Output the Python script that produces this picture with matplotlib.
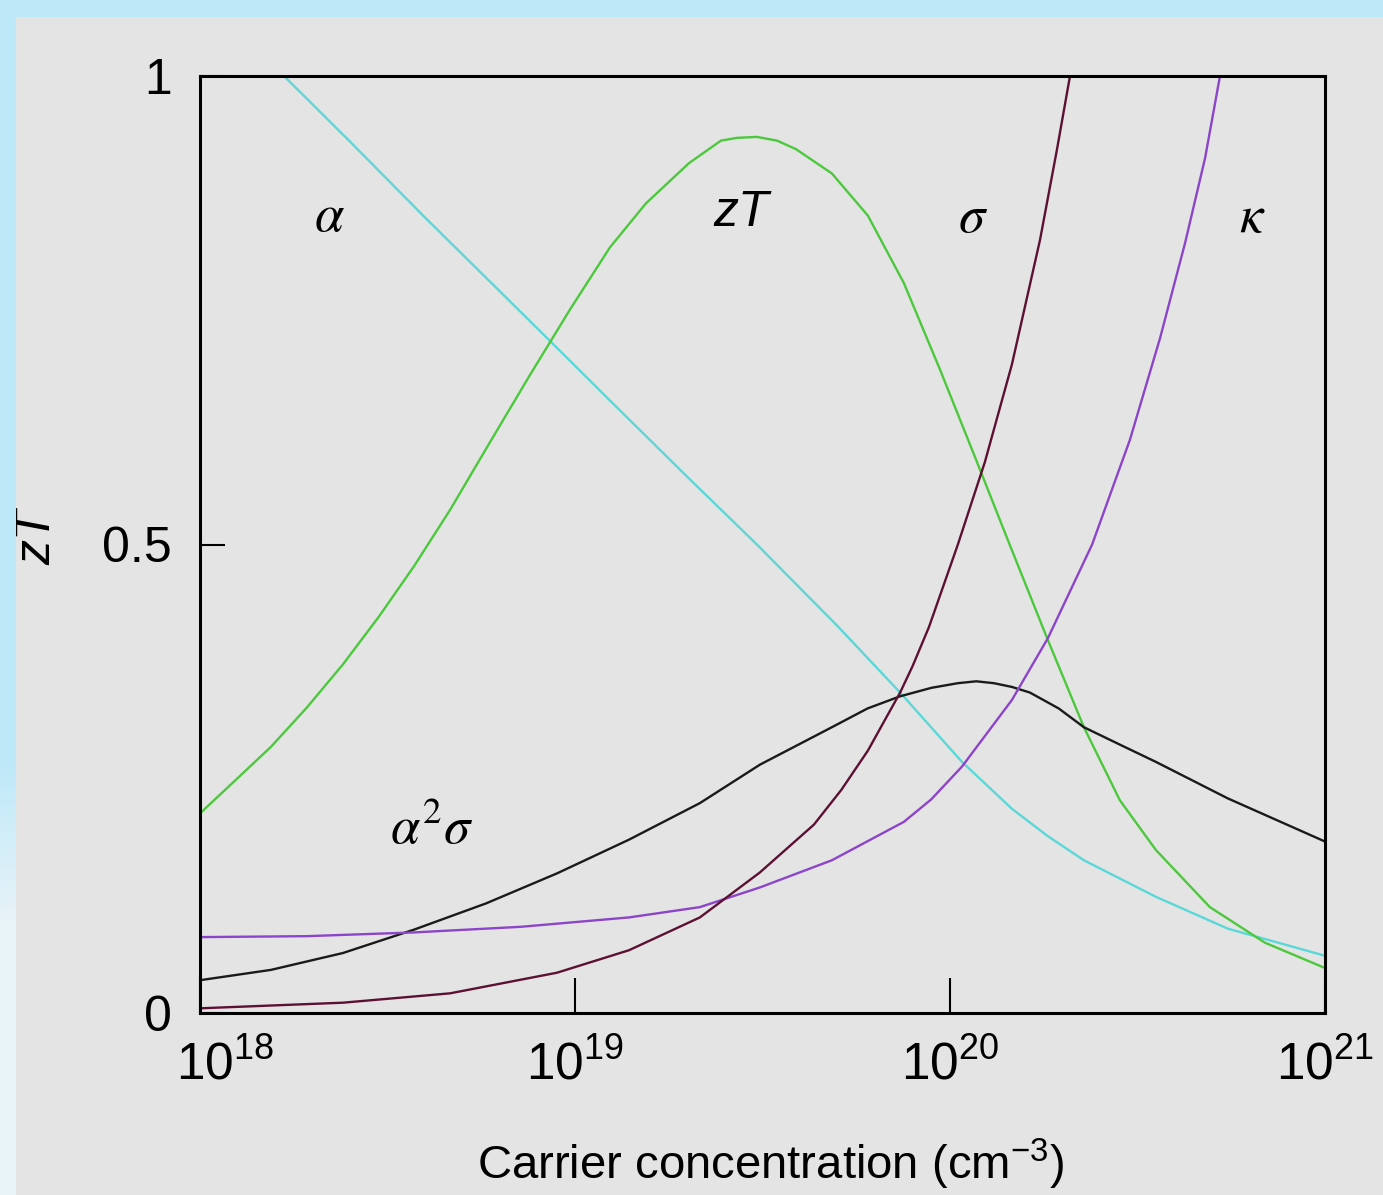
import numpy as np
import matplotlib
matplotlib.use('Agg')
import matplotlib.pyplot as plt
import matplotlib.transforms as mtransforms

plt.rcParams['font.family'] = ['Liberation Sans Narrow', 'Liberation Sans', 'DejaVu Sans']

# curves vs carrier concentration, x given as log10(n / cm^-3)
alpha_logn = [18.0, 18.224, 18.40, 18.60, 18.80, 18.939, 19.10, 19.30, 19.485, 19.70, 19.867,
              20.032, 20.165, 20.26, 20.357, 20.549, 20.741, 20.992, 21.0]
alpha_val = [1.09, 1.00, 0.930, 0.849, 0.770, 0.715, 0.651, 0.572, 0.500, 0.413, 0.342,
             0.268, 0.218, 0.189, 0.163, 0.124, 0.090, 0.062, 0.061]

zt_logn = [18.0, 18.096, 18.189, 18.285, 18.381, 18.477, 18.571, 18.667, 18.773, 18.880, 18.987,
           19.093, 19.189, 19.304, 19.389, 19.432, 19.485, 19.539, 19.589, 19.685, 19.781,
           19.877, 19.973, 20.069, 20.157, 20.261, 20.357, 20.453, 20.549, 20.693, 20.840, 21.0]
zt_val = [0.213, 0.249, 0.284, 0.326, 0.372, 0.423, 0.477, 0.537, 0.609, 0.681, 0.751,
          0.817, 0.864, 0.907, 0.931, 0.934, 0.935, 0.931, 0.922, 0.896, 0.851,
          0.779, 0.687, 0.591, 0.502, 0.398, 0.305, 0.227, 0.174, 0.113, 0.075, 0.048]

pf_logn = [18.0, 18.189, 18.381, 18.571, 18.763, 18.952, 19.144, 19.333, 19.493, 19.685, 19.78,
           19.867, 19.95, 20.021, 20.07, 20.117, 20.165, 20.213, 20.29, 20.357, 20.45, 20.549,
           20.741, 21.0]
pf_val = [0.035, 0.046, 0.064, 0.089, 0.117, 0.149, 0.185, 0.224, 0.265, 0.305, 0.325,
          0.338, 0.347, 0.352, 0.354, 0.352, 0.348, 0.342, 0.325, 0.305, 0.287, 0.268,
          0.229, 0.183]

sigma_logn = [18.0, 18.381, 18.667, 18.952, 19.144, 19.333, 19.493, 19.637, 19.71, 19.781,
              19.867, 19.9, 19.944, 20.021, 20.093, 20.165, 20.24, 20.285, 20.32, 20.34]
sigma_val = [0.005, 0.011, 0.021, 0.043, 0.067, 0.102, 0.150, 0.201, 0.238, 0.280,
             0.342, 0.370, 0.412, 0.500, 0.588, 0.692, 0.825, 0.921, 1.000, 1.05]

kappa_logn = [18.0, 18.285, 18.571, 18.856, 19.144, 19.333, 19.493, 19.685, 19.877, 19.95,
              20.032, 20.165, 20.261, 20.379, 20.48, 20.56, 20.627, 20.68, 20.72, 20.74]
kappa_val = [0.081, 0.082, 0.086, 0.092, 0.102, 0.113, 0.134, 0.163, 0.204, 0.228,
             0.263, 0.334, 0.400, 0.500, 0.612, 0.720, 0.822, 0.912, 1.000, 1.045]

# curve labels: text, log10(n), y
label_text = [r'$\alpha$', r'$\sigma$', r'$\kappa$', r'$\alpha^2\sigma$']
label_logn = [18.344, 20.061, 20.805, 18.619]
label_y = [0.850, 0.848, 0.848, 0.195]

xtick_logn = [18, 19, 20, 21]
ytick_vals = [0, 0.5, 1]
ytick_text = ['0', '0.5', '1']

bg = '#e4e4e4'
fig = plt.figure(figsize=(13.83, 11.95), dpi=100, facecolor=bg)

# light blue frame on the top and left edges
top = np.ones((17, 1383, 3)) * np.array([189, 232, 248]) / 255.
fig.figimage(top, xo=0, yo=1195 - 17, zorder=0)
rows = np.arange(1195)
t = np.clip((rows - 760) / 160., 0, 1)[:, None]
c0 = np.array([189, 232, 248]) / 255.
c1 = np.array([232, 243, 248]) / 255.
left = (c0 * (1 - t) + c1 * t)[:, None, :] * np.ones((1, 16, 1))
fig.figimage(left, xo=0, yo=0, zorder=0)

ax = fig.add_axes([200 / 1383., 1 - 1013 / 1195., 1125 / 1383., 937 / 1195.])
ax.set_facecolor(bg)

lw = 1.7
ax.plot(10 ** np.array(alpha_logn), alpha_val, color='#5ad8d8', lw=lw)
ax.plot(10 ** np.array(zt_logn), zt_val, color='#4cc83c', lw=lw)
ax.plot(10 ** np.array(pf_logn), pf_val, color='#1a1a1a', lw=lw)
ax.plot(10 ** np.array(kappa_logn), kappa_val, color='#8c44c8', lw=lw)
ax.plot(10 ** np.array(sigma_logn), sigma_val, color='#5c1034', lw=lw)

ax.set_xscale('log')
ax.set_xlim(1e18, 1e21)
ax.set_ylim(0, 1)
ax.xaxis.set_minor_locator(matplotlib.ticker.NullLocator())
ax.set_xticks([10.0 ** k for k in xtick_logn])
ax.set_xticklabels([r'$\mathregular{10^{%d}}$' % k for k in xtick_logn], fontsize=37)
ax.set_yticks(ytick_vals)
ax.set_yticklabels(ytick_text, fontsize=36)
ax.tick_params(axis='x', direction='in', length=25, width=1.5, pad=20)
ax.tick_params(axis='y', direction='in', length=18, width=1.5, pad=20)
for s in ax.spines.values():
    s.set_linewidth(2.2)

# nudge the first x label off the y label
shift = mtransforms.ScaledTranslation(0.25, 0, fig.dpi_scale_trans)
lab0 = ax.get_xticklabels()[0]
lab0.set_transform(lab0.get_transform() + shift)

for txt, lx, ly in zip(label_text, label_logn, label_y):
    ax.text(10 ** lx, ly, txt, fontsize=38, ha='center', va='center', math_fontfamily='stix')
ax.text(10 ** 19.443, 0.854, 'zT', fontsize=36, style='italic', ha='center', va='center')

ax.text(0.507, -0.178, r'Carrier concentration (cm$^{\mathregular{-3}}$)', fontsize=34,
        ha='center', va='baseline', transform=ax.transAxes)
ax.text(-0.145, 0.508, 'zT', fontsize=36, style='italic', rotation=90,
        ha='center', va='center', transform=ax.transAxes)

plt.savefig('out.png', dpi=100, facecolor=bg)
